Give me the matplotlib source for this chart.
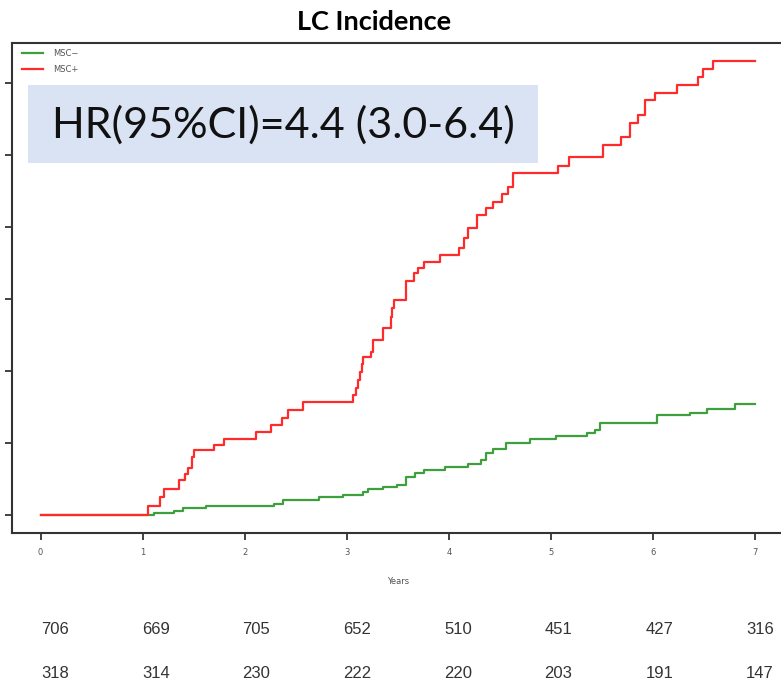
import matplotlib
matplotlib.use("Agg")
import matplotlib.pyplot as plt
from matplotlib.patches import Rectangle

# cumulative incidence step curves (years, fraction)
msc_neg_t = [0, 1.05, 1.106, 1.302, 1.390, 1.615, 2.281, 2.369, 2.722, 2.957,
             3.153, 3.211, 3.358, 3.495, 3.574, 3.671, 3.750, 3.965, 4.181,
             4.308, 4.357, 4.435, 4.553, 4.797, 5.052, 5.355, 5.434, 5.483,
             6.041, 6.364, 6.530, 6.804, 7.0]
msc_neg_y = [0, 0, 0.0014, 0.0028, 0.0049, 0.0063, 0.0076, 0.0104, 0.0125, 0.0139,
             0.0160, 0.0181, 0.0194, 0.0208, 0.0264, 0.0292, 0.0313, 0.0333, 0.0354,
             0.0382, 0.0431, 0.0458, 0.0500, 0.0528, 0.0549, 0.0569, 0.0590, 0.0639,
             0.0694, 0.0708, 0.0736, 0.0771, 0.0771]

msc_pos_t = [0, 1.048, 1.165, 1.204, 1.351, 1.410, 1.439, 1.478, 1.498, 1.694,
             1.792, 2.105, 2.252, 2.360, 2.418, 2.565, 3.064, 3.084, 3.104, 3.123,
             3.143, 3.162, 3.231, 3.260, 3.358, 3.427, 3.446, 3.456, 3.583, 3.652,
             3.691, 3.750, 3.916, 4.102, 4.151, 4.181, 4.278, 4.357, 4.435, 4.523,
             4.582, 4.631, 5.062, 5.179, 5.512, 5.679, 5.776, 5.855, 5.923, 6.021,
             6.237, 6.442, 6.491, 6.589, 7.0]
msc_pos_y = [0, 0.0063, 0.0125, 0.0181, 0.0243, 0.0285, 0.0326, 0.0403, 0.0451, 0.0486,
             0.0528, 0.0576, 0.0625, 0.0674, 0.0729, 0.0785, 0.0833, 0.0882, 0.0938, 0.0993,
             0.1049, 0.1097, 0.1132, 0.1215, 0.1299, 0.1375, 0.1438, 0.1493, 0.1625, 0.1681,
             0.1715, 0.1757, 0.1806, 0.1854, 0.1924, 0.1993, 0.2083, 0.2132, 0.2174, 0.2229,
             0.2278, 0.2375, 0.2424, 0.2486, 0.2569, 0.2625, 0.2722, 0.2778, 0.2882, 0.2931,
             0.2986, 0.3042, 0.3097, 0.3153, 0.3153]

years = [0, 1, 2, 3, 4, 5, 6, 7]
y_ticks = [0, 0.05, 0.10, 0.15, 0.20, 0.25, 0.30]
risk_row1 = [706, 669, 705, 652, 510, 451, 427, 316]
risk_row2 = [318, 314, 230, 222, 220, 203, 191, 147]

W, H = 781, 686
fig = plt.figure(figsize=(W / 100, H / 100), dpi=100)
ax = fig.add_axes([12 / W, (H - 533) / H, (784 - 12) / W, (533 - 43) / H])

ax.step(msc_neg_t, msc_neg_y, where="post", color="#3f9f3f", lw=1.6, label="MSC\u2212")
ax.step(msc_pos_t, msc_pos_y, where="post", color="#ff2a2a", lw=1.6, label="MSC+")

ax.set_xlim(-0.28, 7.28)
ax.set_ylim(-0.0126, 0.3276)
ax.set_xticks(years)
ax.set_xticklabels([str(y) for y in years], fontsize=6, color="#555555")
ax.set_yticks(y_ticks)
ax.set_yticklabels([])
ax.tick_params(direction="out", length=5, width=1.3, color="#333333", pad=6)
for s in ax.spines.values():
    s.set_linewidth(1.5)
    s.set_color("#333333")
ax.set_xlabel("Years", fontsize=6, color="#555555", labelpad=14)

leg = ax.legend(loc="upper left", bbox_to_anchor=(0.013, 0.987), frameon=False,
                fontsize=6, handlelength=2.5, handletextpad=1.2, labelspacing=0.8,
                borderpad=0, borderaxespad=0)
for t in leg.get_texts():
    t.set_color("#555555")

fig.text(374 / W, 1 - 22 / H, "LC Incidence", ha="center", va="center",
         fontsize=19.5, fontweight="bold", family="Lato")

fig.patches.append(Rectangle((28 / W, 1 - 163 / H), (538 - 28) / W, (163 - 85) / H,
                             transform=fig.transFigure, facecolor="#dae3f3",
                             edgecolor="none", zorder=3))
fig.text(283 / W, 1 - 125 / H, "HR(95%CI)=4.4 (3.0-6.4)", ha="center", va="center",
         fontsize=31, family="Lato", color="#111111", zorder=4)

for i in range(len(years)):
    x = (55 + 100.7 * i) / W
    fig.text(x, 1 - 630 / H, str(risk_row1[i]), ha="center", va="center",
             fontsize=12, color="#333333", family="Liberation Sans")
    fig.text(x, 1 - 673 / H, str(risk_row2[i]), ha="center", va="center",
             fontsize=12, color="#333333", family="Liberation Sans")

fig.savefig("out.png", dpi=100)
